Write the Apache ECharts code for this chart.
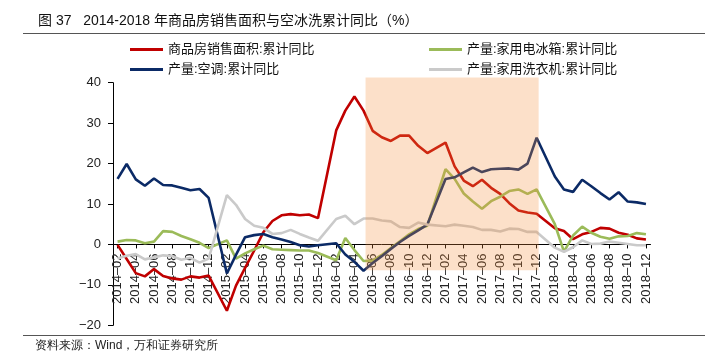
<!DOCTYPE html>
<html><head><meta charset="utf-8">
<script src="https://cdn.jsdelivr.net/npm/echarts@6/dist/echarts.min.js"></script>
<style>html,body{margin:0;padding:0;background:#fff}#c{width:715px;height:357px}</style>
</head><body><div id="c"></div>
<script>
const categories = [
 '2014-02','2014-03','2014-04','2014-05','2014-06','2014-07','2014-08','2014-09','2014-10','2014-11','2014-12',
 '2015-01','2015-02','2015-03','2015-04','2015-05','2015-06','2015-07','2015-08','2015-09','2015-10','2015-11','2015-12',
 '2016-01','2016-02','2016-03','2016-04','2016-05','2016-06','2016-07','2016-08','2016-09','2016-10','2016-11','2016-12',
 '2017-01','2017-02','2017-03','2017-04','2017-05','2017-06','2017-07','2017-08','2017-09','2017-10','2017-11','2017-12',
 '2018-01','2018-02','2018-03','2018-04','2018-05','2018-06','2018-07','2018-08','2018-09','2018-10','2018-11','2018-12'
];
const seriesNames = ['商品房销售面积:累计同比','产量:家用电冰箱:累计同比','产量:空调:累计同比','产量:家用洗衣机:累计同比'];
const salesArea = [
 -0.1,-3.6,-7.1,-7.9,-6.1,-7.8,-8.4,-8.7,-7.9,-8.2,-7.7,
 null,-16.4,-10.2,-5.8,-1.5,3.0,5.8,7.2,7.5,7.2,7.4,6.5,
 null,28.2,33.1,36.6,33.1,28.1,26.5,25.6,26.9,26.9,24.4,22.6,
 null,25.2,19.3,15.8,14.4,16.0,14.0,12.5,10.2,8.4,7.9,7.6,
 null,4.0,3.3,1.3,2.5,3.1,4.1,3.9,2.9,2.4,1.5,1.2
];
const fridge = [
 0.7,1.1,1.0,0.3,0.7,3.3,3.1,2.1,1.3,0.4,-0.9,
 null,1.0,-3.5,-2.2,-1.2,-0.3,-1.2,-1.3,-1.4,-1.5,-1.5,-2.1,
 null,-3.9,1.6,-1.4,-4.1,-4.0,-2.6,-0.9,0.8,2.5,3.8,4.6,
 null,18.6,16.2,12.6,10.6,8.8,10.7,11.8,13.2,13.6,12.5,13.6,
 null,5.0,-1.8,2.2,4.4,2.9,1.9,1.4,2.0,2.1,2.8,2.5
];
const aircon = [
 16.2,19.9,16.1,14.5,16.3,14.7,14.6,14.0,13.4,13.7,11.5,
 null,-7.2,-2.6,1.8,2.3,2.6,1.8,1.2,0.6,-0.2,-0.5,-0.2,
 null,0.3,-2.5,-4.3,-6.5,-4.6,-2.9,-1.1,0.6,2.1,3.5,4.9,
 null,16.2,16.6,17.8,19.0,17.9,18.6,18.7,18.8,18.5,20.0,26.4,
 null,16.8,13.6,13.0,16.0,14.4,12.7,11.1,12.9,10.6,10.4,10.0
];
const washer = [
 -3.5,-2.8,-2.4,-3.7,-3.2,-2.7,-2.9,-3.8,-3.3,-4.5,-3.5,
 null,12.2,9.8,6.3,4.6,4.1,2.6,2.8,3.6,2.6,1.7,0.9,
 null,6.3,7.1,5.0,6.4,6.4,5.9,5.7,4.3,4.1,5.4,4.9,
 null,4.5,4.9,4.6,4.3,3.6,3.6,3.2,3.9,3.8,3.1,3.1,
 null,-0.8,-1.8,-0.7,1.0,0.1,0.2,0.7,0.4,0.1,-0.2,-0.2
];
const shadeStart = '2016-05', shadeEnd = '2017-12', shadeTop = 41.3, shadeBottom = -6.4;
const yMin = -20, yMax = 40, yStep = 10;
const titleText = '图 37   2014-2018 年商品房销售面积与空冰洗累计同比（%）';
const sourceText = '资料来源：Wind，万和证券研究所';

const colors = ['#C00000', '#9BBB59', '#0B2A66', '#CACACA'];
const cjk = '"Liberation Sans", "Noto Sans CJK SC", sans-serif';
const gridTop = 82.7, gridBottom = 31.7, H = 357;
const plotH = H - gridTop - gridBottom;
// move x axis (with its labels) up to the zero line
const zeroOffset = -((0 - yMin) / (yMax - yMin)) * plotH;

const chart = echarts.init(document.getElementById('c'), null, {renderer: 'canvas'});
const lineSeries = [salesArea, fridge, aircon, washer].map((d, i) => ({
  name: seriesNames[i], type: 'line', data: d, symbol: 'none', connectNulls: true,
  lineStyle: {width: 2.6, color: colors[i]}, itemStyle: {color: colors[i]}, z: 2 + i, animation: false
}));
chart.setOption({
  animation: false,
  textStyle: {fontFamily: cjk},
  title: {text: titleText, left: 33, top: 9, textStyle: {fontSize: 14, fontWeight: 'normal', color: '#111', fontFamily: cjk}},
  legend: [
    {left: 125, top: 38, orient: 'vertical', itemGap: 7, itemWidth: 33, itemHeight: 3, icon: 'rect',
     data: [seriesNames[0], seriesNames[2]], textStyle: {fontSize: 13, color: '#111', fontFamily: cjk}},
    {left: 424, top: 38, orient: 'vertical', itemGap: 7, itemWidth: 33, itemHeight: 3, icon: 'rect',
     data: [seriesNames[1], seriesNames[3]], textStyle: {fontSize: 13, color: '#111', fontFamily: cjk}}
  ],
  grid: {left: 113, right: 64.5, top: gridTop, bottom: gridBottom, outerBoundsMode: 'none'},
  xAxis: {
    type: 'category', data: categories, boundaryGap: true, position: 'bottom', offset: zeroOffset,
    axisLine: {onZero: false, lineStyle: {color: '#000', width: 1}},
    axisTick: {show: true, alignWithLabel: true, interval: 1, length: 4, lineStyle: {color: '#000'}},
    axisLabel: {interval: 1, rotate: 90, fontSize: 13, color: '#222', margin: 9, fontFamily: '"Liberation Sans", sans-serif',
      formatter: v => v.replace('-', '\u2013')},
    splitLine: {show: false}
  },
  yAxis: {
    type: 'value', min: yMin, max: yMax, interval: yStep,
    axisLine: {show: true, lineStyle: {color: '#000', width: 1}},
    axisTick: {show: true, length: 5, lineStyle: {color: '#000'}},
    axisLabel: {fontSize: 13, color: '#222', margin: 12, fontFamily: '"Liberation Sans", sans-serif',
      formatter: v => v < 0 ? '\u2212' + Math.abs(v) : String(v)},
    splitLine: {show: false}
  },
  graphic: [
    {type: 'line', shape: {x1: 23, y1: 33.5, x2: 705, y2: 33.5}, style: {stroke: '#555', lineWidth: 1}},
    {type: 'line', shape: {x1: 23, y1: 335.5, x2: 705, y2: 335.5}, style: {stroke: '#555', lineWidth: 1}},
    {type: 'text', left: 35, top: 340, style: {text: sourceText, fontSize: 12, fill: '#222', font: '12px ' + cjk}}
  ],
  series: lineSeries.concat([{
    type: 'custom', name: 'shade', z: 20, silent: true,
    data: [[categories.indexOf(shadeStart), categories.indexOf(shadeEnd), shadeTop, shadeBottom]],
    encode: {x: [0, 1], y: [2, 3]},
    renderItem: (params, api) => {
      const p1 = api.coord([api.value(0), api.value(2)]);
      const p2 = api.coord([api.value(1), api.value(3)]);
      return {type: 'rect', shape: {x: p1[0] + 2, y: p1[1], width: p2[0] - p1[0], height: p2[1] - p1[1]},
        style: {fill: 'rgba(244,142,60,0.28)'}};
    }
  }])
});
</script></body></html>
